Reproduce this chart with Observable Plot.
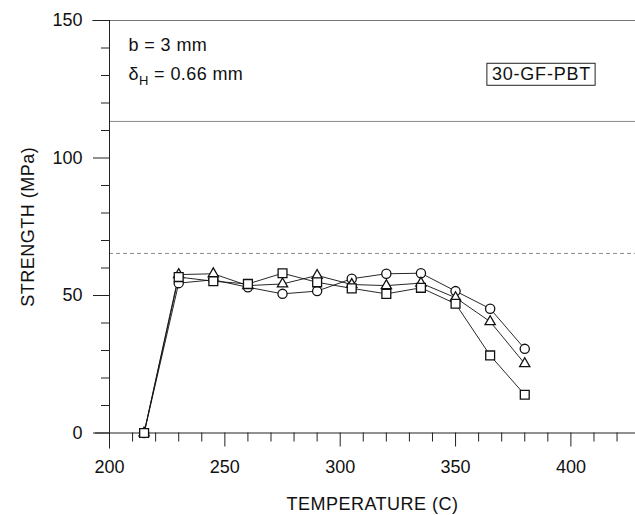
<!DOCTYPE html>
<html>
<head>
<meta charset="utf-8">
<script src="https://cdn.jsdelivr.net/npm/d3@7"></script>
<script src="https://cdn.jsdelivr.net/npm/@observablehq/plot@0.6"></script>
<style>
  html, body { margin: 0; padding: 0; background: white; }
</style>
</head>
<body>
<div id="chart"></div>
<script>
// Data
const temperatures = [215, 230, 245, 260, 275, 290, 305, 320, 335, 350, 365, 380];
const circleSeries   = [0, 54.5, 55.7, 53.0, 50.6, 51.6, 56.1, 57.9, 58.1, 51.6, 45.2, 30.6];
const triangleSeries = [0, 57.6, 57.9, 53.6, 54.2, 57.3, 54.0, 53.6, 54.5, 49.2, 40.5, 25.2];
const squareSeries   = [0, 56.7, 55.2, 54.2, 58.1, 54.8, 52.6, 50.6, 52.8, 47.0, 28.2, 13.9];
const seriesNames = ["circle", "triangle", "square"];
const referenceLines = [113.3];
const dashedLines = [65.3];
const xMajorTicks = [200, 250, 300, 350, 400];
const xMinorTicks = [210, 220, 230, 240, 260, 270, 280, 290, 310, 320, 330, 340, 360, 370, 380, 390, 410, 420];
const yMajorTicks = [0, 50, 100, 150];
const yMinorTicks = [10, 20, 30, 40, 60, 70, 80, 90, 110, 120, 130, 140];

const allSeries = [circleSeries, triangleSeries, squareSeries];
const data = [];
seriesNames.forEach((s, i) => {
  temperatures.forEach((t, j) => data.push({s, t, v: allSeries[i][j]}));
});
const bySeries = name => data.filter(d => d.s === name);

const FONT = "'Liberation Sans', Arial, Helvetica, sans-serif";
const dotStyle = {x: "t", y: "v", fill: "white", stroke: "#111", strokeWidth: 1.3};

const chart = Plot.plot({
  width: 635,
  height: 515,
  marginLeft: 109,
  marginRight: 0,
  marginTop: 20,
  marginBottom: 82.5,
  style: {fontFamily: FONT, fontSize: "18px", color: "#111", background: "white"},
  x: {domain: [200, 428]},
  y: {domain: [0, 150]},
  marks: [
    Plot.ruleY(referenceLines, {stroke: "#8a8a8a", strokeWidth: 1}),
    Plot.ruleY(dashedLines, {stroke: "#8a8a8a", strokeWidth: 1, strokeDasharray: "4,3"}),
    Plot.ruleY([150], {stroke: "#777", strokeWidth: 1.2, insetLeft: -17}),
    Plot.ruleY([0], {stroke: "#222", strokeWidth: 1, insetLeft: -14}),
    Plot.ruleX([200], {stroke: "#222", strokeWidth: 1, insetBottom: -16}),
    Plot.axisY({ticks: yMajorTicks, tickSize: 16, tickPadding: 11, label: null, fontSize: 18, stroke: "#222"}),
    Plot.axisY({ticks: yMinorTicks, tickSize: 8, tickFormat: () => "", label: null, stroke: "#222"}),
    Plot.axisX({ticks: xMajorTicks, tickSize: 14, tickPadding: 13, label: null, fontSize: 18, stroke: "#222"}),
    Plot.axisX({ticks: xMinorTicks, tickSize: 9, tickFormat: () => "", label: null, stroke: "#222"}),
    Plot.line(data, {x: "t", y: "v", z: "s", stroke: "#111", strokeWidth: 0.9}),
    Plot.dot(bySeries("circle"), {...dotStyle, symbol: "circle", r: 4.6}),
    Plot.dot(bySeries("triangle"), {...dotStyle, symbol: "triangle", r: 3.8}),
    Plot.dot(bySeries("square"), {...dotStyle, symbol: "square", r: 5.0}),
    Plot.text(["b = 3 mm"], {frameAnchor: "top-left", dx: 19, dy: 18, lineAnchor: "top", textAnchor: "start", fontSize: 18}),
    Plot.text(["δH = 0.66 mm"], {frameAnchor: "top-left", dx: 19, dy: 47, lineAnchor: "top", textAnchor: "start", fontSize: 18}),
    Plot.text(["30-GF-PBT"], {frameAnchor: "top-right", dx: -94, dy: 47, lineAnchor: "top", textAnchor: "middle", fontSize: 18}),
    Plot.text(["STRENGTH (MPa)"], {frameAnchor: "left", dx: -81, rotate: -90, textAnchor: "middle", lineAnchor: "middle", fontSize: 18}),
    Plot.text(["TEMPERATURE (C)"], {frameAnchor: "bottom", dy: 71, textAnchor: "middle", lineAnchor: "middle", fontSize: 18})
  ]
});

document.getElementById("chart").appendChild(chart);

// Slight letter spacing, subscript H and the framed label
const svg = d3.select(chart);
svg.selectAll("text").each(function() {
  const el = d3.select(this);
  const txt = this.textContent;
  if (txt === "b = 3 mm") el.attr("letter-spacing", "0.4");
  if (txt === "δH = 0.66 mm") {
    el.attr("letter-spacing", "0.4");
    el.text(null);
    el.append("tspan").text("δ");
    el.append("tspan").attr("dy", "5").attr("font-size", "13").text("H");
    el.append("tspan").attr("dy", "-5").text(" = 0.66 mm");
  }
  if (txt === "STRENGTH (MPa)" || txt === "TEMPERATURE (C)") el.attr("letter-spacing", "0.5");
  if (txt === "30-GF-PBT") {
    el.attr("letter-spacing", "0.8");
    const bb = this.getBBox();
    const tf = this.getAttribute("transform");
    const g = d3.select(this.parentNode);
    g.insert("rect", () => this)
      .attr("x", bb.x - 5).attr("y", bb.y - 1)
      .attr("width", bb.width + 9).attr("height", bb.height + 2)
      .attr("fill", "white").attr("stroke", "#222").attr("stroke-width", 1)
      .attr("transform", tf);
  }
});
</script>
</body>
</html>
